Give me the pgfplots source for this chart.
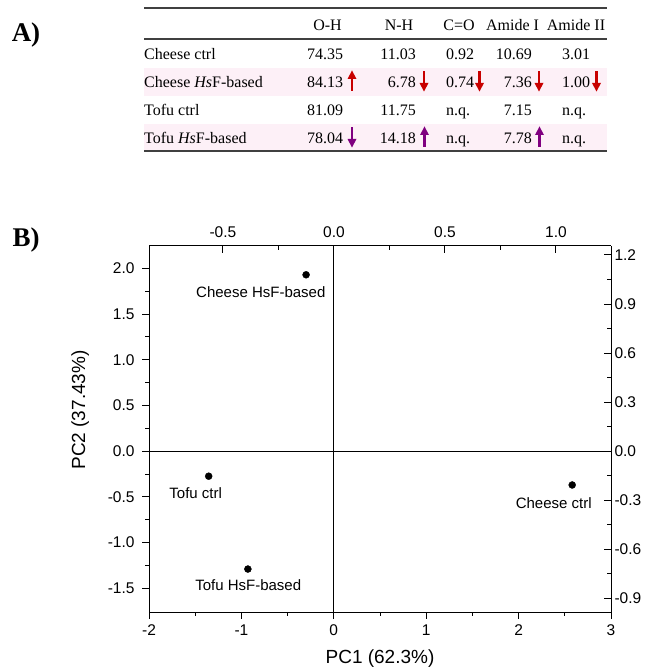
\documentclass[border=0pt]{standalone}
\usepackage{fontspec}
\setmainfont{Liberation Serif}
\newfontfamily\arial{Liberation Sans}
\usepackage{pgfplots}
\pgfplotsset{compat=1.18}

\definecolor{rowpink}{RGB}{253,240,247}
\definecolor{upred}{RGB}{200,0,0}
\definecolor{purp}{RGB}{128,0,128}

% table arrows (x, y centre, colour), y measured downwards
\newcommand{\uparr}[3]{%
  \fill[#3] (#1-1.2,#2+10) rectangle (#1+1.2,#2-3);
  \fill[#3] (#1-4.5,#2-2) -- (#1+4.5,#2-2) -- (#1,#2-10.5) -- cycle;}
\newcommand{\dnarr}[3]{%
  \fill[#3] (#1-1.2,#2-10) rectangle (#1+1.2,#2+3);
  \fill[#3] (#1-4.5,#2+2) -- (#1+4.5,#2+2) -- (#1,#2+10.5) -- cycle;}

\begin{document}
\begin{tikzpicture}
\path[use as bounding box] (0,0) rectangle (649bp,669bp);

% ---------- panel A: table ----------
\begin{scope}[x=1bp, y=-1bp, yshift=669bp, every node/.style={inner sep=0pt}]
  \fill[rowpink] (144,68) rectangle (607,96);
  \fill[rowpink] (144,124) rectangle (607,151);
  \draw[line width=1.6, black!75] (144,8) -- (607,8);
  \draw[line width=1.6, black!75] (144,39) -- (607,39);
  \draw[line width=1.6, black!75] (144,151) -- (607,151);

  \node[font=\fontsize{27bp}{30bp}\selectfont\bfseries] at (26,35) {A)};
  \node[font=\fontsize{27bp}{30bp}\selectfont\bfseries] at (26,240) {B)};

  \begin{scope}[every node/.append style={font=\fontsize{16bp}{19bp}\selectfont}]
    % header
    \node[anchor=base] at (327.5,30.5) {O-H};
    \node[anchor=base] at (399,30.5) {N-H};
    \node[anchor=base] at (459,30.5) {C=O};
    \node[anchor=base] at (512.5,30.5) {Amide I};
    \node[anchor=base] at (576,30.5) {Amide II};
    % row labels
    \node[anchor=base west] at (144,59.5) {Cheese ctrl};
    \node[anchor=base west] at (144,87.5) {Cheese \textit{Hs}F-based};
    \node[anchor=base west] at (144,115.5) {Tofu ctrl};
    \node[anchor=base west] at (144,143.5) {Tofu \textit{Hs}F-based};
    % O-H
    \node[anchor=base west] at (307,59.5) {74.35};
    \node[anchor=base west] at (307,87.5) {84.13};
    \node[anchor=base west] at (307,115.5) {81.09};
    \node[anchor=base west] at (307,143.5) {78.04};
    % N-H
    \node[anchor=base east] at (416,59.5) {11.03};
    \node[anchor=base east] at (416,87.5) {6.78};
    \node[anchor=base east] at (416,115.5) {11.75};
    \node[anchor=base east] at (416,143.5) {14.18};
    % C=O
    \node[anchor=base west] at (446,59.5) {0.92};
    \node[anchor=base west] at (446,87.5) {0.74};
    \node[anchor=base west] at (446,115.5) {n.q.};
    \node[anchor=base west] at (446,143.5) {n.q.};
    % Amide I
    \node[anchor=base east] at (532,59.5) {10.69};
    \node[anchor=base east] at (532,87.5) {7.36};
    \node[anchor=base east] at (532,115.5) {7.15};
    \node[anchor=base east] at (532,143.5) {7.78};
    % Amide II
    \node[anchor=base west] at (562,59.5) {3.01};
    \node[anchor=base west] at (562,87.5) {1.00};
    \node[anchor=base west] at (562,115.5) {n.q.};
    \node[anchor=base west] at (562,143.5) {n.q.};
  \end{scope}

  \uparr{352}{81}{upred}
  \dnarr{424}{81}{upred}
  \dnarr{479.5}{81}{upred}
  \dnarr{539}{81}{upred}
  \dnarr{596.5}{81}{upred}
  \dnarr{352}{137}{purp}
  \uparr{424.5}{137}{purp}
  \uparr{539.5}{137}{purp}
\end{scope}

% ---------- panel B: PCA scores ----------
\pgfplotsset{
  pcabase/.style={
    at={(149bp,57bp)}, anchor=south west,
    scale only axis, width=462bp, height=366bp,
    axis line style={line width=1bp},
    tick style={black, line width=1bp},
    major tick length=7bp, minor tick length=4bp,
    /pgf/number format/assume math mode=true,
    ticklabel style={font=\arial\fontsize{15.5bp}{18bp}\selectfont},
  },
}

\begin{axis}[
  pcabase,
  xmin=-2, xmax=3, ymin=-1.76, ymax=2.245,
  axis x line*=bottom, axis y line*=left,
  tick align=outside,
  xtick={-2,-1,0,1,2,3}, minor x tick num=1,
  ytick={-1.5,-1,-0.5,0,0.5,1,1.5,2}, minor y tick num=1,
  xticklabel style={yshift=-2bp},
  yticklabel style={xshift=-4bp, /pgf/number format/.cd, fixed, fixed zerofill, precision=1},
  xlabel={PC1 (62.3\%)}, ylabel={PC2 (37.43\%)},
  every axis x label/.style={at={(axis description cs:0.5,-0.126)}, anchor=center,
    font=\arial\fontsize{19bp}{22bp}\selectfont},
  every axis y label/.style={at={(axis description cs:-0.149,0.552)}, anchor=center, rotate=90,
    font=\arial\fontsize{19bp}{22bp}\selectfont},
  clip=false,
]
% zero lines
\addplot[black, line width=1bp] coordinates {(0,-1.76) (0,2.245)};
\addplot[black, line width=1bp] coordinates {(-2,0) (3,0)};
% scores
\addplot[only marks, mark=*, mark size=3.5bp, black] table {
x y
-0.30 1.93
-1.354 -0.274
-0.93 -1.29
2.58 -0.37
};
\begin{scope}[every node/.style={font=\arial\fontsize{15bp}{18bp}\selectfont, inner sep=0pt}]
  \node at (axis cs:-0.79,1.74) {Cheese HsF-based};
  \node at (axis cs:-1.495,-0.46) {Tofu ctrl};
  \node at (axis cs:-0.926,-1.468) {Tofu HsF-based};
  \node at (axis cs:2.38,-0.57) {Cheese ctrl};
\end{scope}
\end{axis}

\begin{axis}[
  pcabase,
  xmin=-0.833, xmax=1.248, ymin=-0.985, ymax=1.255,
  axis x line*=top, axis y line*=right,
  tick align=inside,
  xtick={-0.5,0,0.5,1}, minor x tick num=1,
  ytick={-0.9,-0.6,-0.3,0,0.3,0.6,0.9,1.2}, minor y tick num=1,
  xticklabel style={yshift=5bp, /pgf/number format/.cd, fixed, fixed zerofill, precision=1},
  yticklabel style={/pgf/number format/.cd, fixed, fixed zerofill, precision=1},
]
\addplot[draw=none] coordinates {(0,0)};
\end{axis}
\end{tikzpicture}
\end{document}
